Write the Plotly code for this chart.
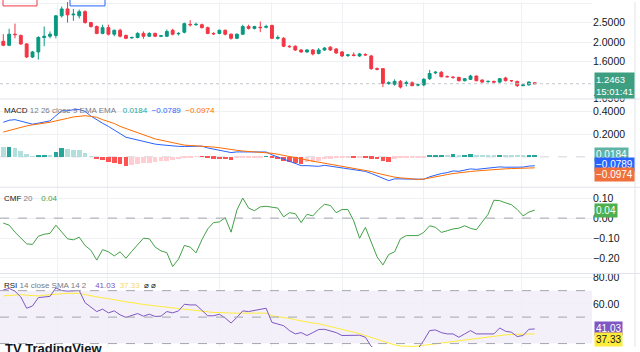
import math
import plotly.graph_objects as go

# ---------------- data ----------------
opens = [2.02,1.93,2.19,2.16,1.96,1.69,1.79,2.11,2.14,2.16,2.70,2.92,2.73,2.70,2.83,2.50,2.39,2.21,2.36,2.19,
         2.29,2.16,2.10,2.11,2.21,2.14,2.21,2.14,2.14,2.29,2.20,2.24,2.45,2.44,2.44,2.36,2.21,2.21,2.29,2.19,
         2.09,2.19,2.39,2.34,2.37,2.37,2.42,2.09,2.09,1.91,1.91,1.83,1.79,1.83,1.76,1.83,1.89,1.85,1.79,1.72,
         1.73,1.71,1.74,1.71,1.48,1.48,1.25,1.24,1.28,1.25,1.26,1.23,1.23,1.32,1.41,1.42,1.35,1.34,1.34,1.29,
         1.31,1.36,1.30,1.28,1.28,1.27,1.33,1.29,1.28,1.22,1.23,1.26]
highs = [2.19,2.33,2.47,2.18,1.98,1.81,2.14,2.39,2.26,2.72,3.00,3.16,2.92,2.90,2.88,2.52,2.42,2.44,2.44,2.31,
         2.33,2.18,2.13,2.24,2.26,2.24,2.23,2.17,2.31,2.33,2.24,2.50,2.57,2.50,2.47,2.39,2.24,2.31,2.31,2.21,
         2.21,2.44,2.44,2.41,2.53,2.44,2.44,2.16,2.12,1.93,1.93,1.85,1.85,1.85,1.87,1.89,1.91,1.87,1.81,1.75,
         1.78,1.77,1.76,1.73,1.50,1.49,1.28,1.31,1.30,1.29,1.28,1.25,1.33,1.46,1.44,1.44,1.37,1.36,1.35,1.33,
         1.38,1.37,1.31,1.29,1.29,1.33,1.35,1.30,1.29,1.24,1.28,1.27]
lows = [1.91,1.91,2.09,1.94,1.67,1.67,1.64,1.91,2.09,2.09,2.65,2.50,2.55,2.62,2.47,2.36,2.19,2.19,2.16,2.14,
        2.11,2.07,2.08,2.09,2.08,2.12,2.12,2.12,2.12,2.16,2.16,2.21,2.39,2.41,2.34,2.19,2.17,2.19,2.16,2.06,
        2.07,2.17,2.31,2.31,2.24,2.34,2.07,2.06,1.89,1.88,1.81,1.77,1.77,1.72,1.74,1.81,1.81,1.75,1.69,1.69,
        1.70,1.69,1.71,1.46,1.45,1.20,1.23,1.22,1.18,1.21,1.21,1.21,1.21,1.30,1.39,1.34,1.34,1.32,1.28,1.28,
        1.30,1.28,1.26,1.26,1.26,1.26,1.28,1.27,1.20,1.21,1.22,1.24]
closes = [1.93,2.19,2.18,1.96,1.69,1.79,2.11,2.14,2.19,2.70,2.92,2.73,2.75,2.83,2.50,2.39,2.21,2.36,2.19,2.29,
          2.14,2.09,2.11,2.21,2.14,2.21,2.14,2.15,2.26,2.19,2.21,2.47,2.44,2.45,2.36,2.21,2.20,2.29,2.19,2.09,
          2.19,2.39,2.34,2.39,2.36,2.39,2.09,2.11,1.91,1.90,1.83,1.79,1.83,1.75,1.83,1.87,1.83,1.77,1.71,1.73,
          1.72,1.75,1.73,1.48,1.47,1.25,1.26,1.28,1.20,1.26,1.22,1.23,1.31,1.40,1.42,1.35,1.35,1.34,1.29,1.32,
          1.36,1.29,1.27,1.28,1.27,1.32,1.29,1.29,1.22,1.23,1.27,1.2463]

macd_line = [0.307,0.325,0.330,0.316,0.298,0.290,0.299,0.311,0.319,0.365,0.408,0.409,0.418,0.420,0.403,0.362,
             0.328,0.298,0.270,0.241,0.206,0.174,0.162,0.148,0.136,0.125,0.113,0.107,0.101,0.093,0.093,0.092,
             0.095,0.098,0.095,0.079,0.070,0.061,0.052,0.038,0.044,0.043,0.041,0.040,0.039,0.043,0.018,0.000,
             -0.021,-0.040,-0.061,-0.078,-0.078,-0.081,-0.084,-0.075,-0.082,-0.089,-0.097,-0.102,-0.111,-0.120,
             -0.129,-0.147,-0.168,-0.195,-0.211,-0.195,-0.196,-0.199,-0.203,-0.204,-0.199,-0.177,-0.160,-0.148,
             -0.140,-0.125,-0.128,-0.115,-0.107,-0.111,-0.106,-0.102,-0.098,-0.089,-0.092,-0.092,-0.093,-0.091,
             -0.082,-0.0789]
signal_line = [0.220,0.235,0.249,0.264,0.275,0.284,0.290,0.299,0.307,0.319,0.333,0.342,0.354,0.362,0.365,0.359,
               0.351,0.330,0.313,0.296,0.270,0.252,0.232,0.212,0.194,0.177,0.159,0.148,0.136,0.122,0.113,0.104,
               0.101,0.099,0.096,0.093,0.087,0.081,0.072,0.064,0.058,0.052,0.049,0.046,0.043,0.038,0.032,0.023,
               0.014,0.006,-0.006,-0.017,-0.029,-0.038,-0.046,-0.055,-0.067,-0.075,-0.084,-0.090,-0.099,-0.110,
               -0.119,-0.130,-0.145,-0.157,-0.168,-0.180,-0.186,-0.191,-0.197,-0.200,-0.197,-0.186,-0.174,-0.165,
               -0.157,-0.148,-0.140,-0.135,-0.130,-0.125,-0.120,-0.116,-0.112,-0.109,-0.106,-0.104,-0.102,-0.100,
               -0.099,-0.0974]
macd_hist = [0.087,0.090,0.081,0.052,0.023,0.006,0.009,0.012,0.012,0.046,0.075,0.067,0.064,0.058,0.038,0.003,
             -0.023,-0.032,-0.043,-0.055,-0.064,-0.078,-0.070,-0.064,-0.058,-0.052,-0.046,-0.041,-0.035,-0.029,
             -0.020,-0.012,-0.006,-0.001,-0.001,-0.014,-0.017,-0.020,-0.020,-0.026,-0.014,-0.009,-0.008,-0.006,
             -0.004,0.005,-0.014,-0.023,-0.035,-0.046,-0.055,-0.061,-0.049,-0.043,-0.038,-0.020,-0.015,-0.014,
             -0.013,-0.012,-0.012,-0.010,-0.010,-0.017,-0.023,-0.038,-0.043,-0.015,-0.010,-0.008,-0.006,-0.004,
             -0.002,0.009,0.014,0.017,0.017,0.023,0.012,0.020,0.023,0.014,0.014,0.014,0.014,0.020,0.014,0.012,
             0.009,0.009,0.017,0.0184]

cmf = [-0.025,-0.035,-0.070,-0.098,-0.128,-0.131,-0.090,-0.080,-0.076,-0.035,-0.070,-0.103,-0.108,-0.095,
       -0.136,-0.160,-0.209,-0.157,-0.168,-0.188,-0.168,-0.200,-0.165,-0.133,-0.100,-0.103,-0.144,-0.163,
       -0.172,-0.241,-0.204,-0.136,-0.144,-0.173,-0.108,-0.054,-0.022,-0.019,0.002,-0.070,0.040,0.100,
       0.050,0.037,0.056,0.059,0.054,0.050,0.006,0.027,0.022,-0.022,0.019,0.011,0.043,0.069,0.063,0.027,
       0.043,0.043,-0.014,-0.100,-0.046,-0.120,-0.193,-0.233,-0.181,-0.168,-0.103,-0.087,-0.087,-0.087,
       -0.071,-0.038,-0.046,-0.071,-0.063,-0.054,-0.050,-0.038,-0.051,-0.058,-0.019,0.019,0.089,0.087,
       0.076,0.067,0.043,0.011,0.030,0.04]

rsi = [70.6,71.6,69.6,65.2,56.7,58.4,64.7,65.2,65.7,72.1,70.1,69.6,69.6,70.1,60.9,57.7,54.2,56.0,53.2,54.7,
       51.7,49.8,51.0,52.7,50.7,52.2,50.5,50.7,54.2,53.2,54.7,59.7,59.2,59.2,55.2,51.0,51.0,52.2,49.3,45.5,
       49.8,54.7,54.2,55.2,56.0,56.7,46.0,44.8,43.5,39.8,37.3,38.3,36.1,38.3,40.6,40.8,39.8,38.3,36.1,36.1,
       36.3,36.3,34.8,27.9,24.9,21.2,22.4,22.4,21.2,22.4,23.7,26.1,32.4,39.8,40.3,38.3,37.3,37.3,34.8,37.3,
       39.8,37.3,37.3,36.8,37.3,41.8,39.3,38.6,35.3,36.1,40.8,41.03]
rsi_sma = [66.0,66.5,67.0,67.0,66.5,66.0,66.0,66.5,67.0,67.5,68.0,68.0,68.0,68.0,67.0,66.0,65.0,64.5,64.0,63.0,
           62.0,61.5,61.0,60.0,59.5,59.0,58.5,58.0,57.5,57.0,56.0,55.5,55.5,55.0,54.5,54.0,53.5,53.5,53.0,53.0,
           53.0,53.0,53.0,53.0,53.0,53.0,51.0,50.5,50.0,49.0,48.0,47.0,46.0,45.5,45.0,44.0,43.0,42.0,41.0,40.0,
           38.6,37.5,36.0,34.5,33.0,31.5,30.0,29.0,28.2,27.8,27.8,28.2,28.6,29.2,29.8,30.4,31.0,31.6,32.2,32.8,
           33.4,34.0,34.6,35.2,35.7,36.2,36.6,36.9,37.1,37.2,37.3,37.33]

price_ticks = [1.05, 1.6, 2.0, 2.5, 3.1]
price_tick_text = ["1.0500", "1.6000", "2.0000", "2.5000", "3.1000"]
macd_ticks = [0.2, 0.4]
macd_tick_text = ["0.2000", "0.4000"]
cmf_ticks = [-0.2, -0.1, 0.0, 0.1]
cmf_tick_text = ["\u22120.20", "\u22120.10", "0.00", "0.10"]
rsi_ticks = [60, 80]
rsi_tick_text = ["60.00", "80.00"]

last_price_text = "1.2463"
countdown_text = "15:01:41"

# ---------------- figure ----------------
W, H = 640, 352
PLOT_R = 592.0
idx = list(range(len(closes)))

def py(p):
    return 1 - p / H

def px(p):
    return p / PLOT_R

FONT = "Liberation Sans, Arial, sans-serif"
GREEN = "#089981"
RED = "#F23645"
GRID = "#eef0f4"

fig = go.Figure()

fig.add_trace(go.Candlestick(
    x=idx, open=opens, high=highs, low=lows, close=closes,
    increasing=dict(line=dict(color=GREEN, width=1), fillcolor=GREEN),
    decreasing=dict(line=dict(color=RED, width=1), fillcolor=RED),
    whiskerwidth=0, xaxis="x", yaxis="y", hoverinfo="skip"))

hist_colors = []
for i, v in enumerate(macd_hist):
    prev = macd_hist[i - 1] if i > 0 else v
    if v >= 0:
        hist_colors.append("#26A69A" if v > prev else "#B2DFDB")
    else:
        hist_colors.append("#FFCDD2" if v > prev else "#FF5252")

fig.add_trace(go.Bar(x=idx, y=macd_hist, marker=dict(color=hist_colors, line=dict(width=0)),
                     width=0.8, xaxis="x2", yaxis="y2"))
fig.add_trace(go.Scatter(x=idx, y=macd_line, mode="lines", line=dict(color="#2962FF", width=1),
                         xaxis="x2", yaxis="y2"))
fig.add_trace(go.Scatter(x=idx, y=signal_line, mode="lines", line=dict(color="#FF6D00", width=1),
                         xaxis="x2", yaxis="y2"))
fig.add_trace(go.Scatter(x=idx, y=cmf, mode="lines", line=dict(color="#43A047", width=1),
                         xaxis="x3", yaxis="y3"))
fig.add_trace(go.Scatter(x=idx, y=rsi_sma, mode="lines", line=dict(color="#FFEB3B", width=1),
                         xaxis="x4", yaxis="y4"))
fig.add_trace(go.Scatter(x=idx, y=rsi, mode="lines", line=dict(color="#7E57C2", width=1),
                         xaxis="x4", yaxis="y4"))

xgrid = [9.2, 17.9, 37.1, 46.0, 58.0, 71.9, 88.8]
xrange_ = [-0.565, 100.8]
xcommon = dict(range=xrange_, showticklabels=False, tickvals=xgrid, showgrid=True, gridcolor=GRID,
               zeroline=False, showline=False, ticks="", fixedrange=True)

tickfont = dict(family=FONT, size=10.5, color="#131722")
ycommon = dict(side="right", showgrid=True, gridcolor=GRID, zeroline=False, showline=False,
               ticks="", tickfont=tickfont, fixedrange=True)

d1 = [py(99), 1]
d2 = [py(189), py(99)]
d3 = [py(277), py(189)]
d4 = [0, py(277)]

fig.update_layout(
    width=W, height=H, margin=dict(l=0, r=W - PLOT_R, t=0, b=0),
    paper_bgcolor="white", plot_bgcolor="white", showlegend=False,
    font=dict(family=FONT, size=10, color="#131722"),
    bargap=0,
    xaxis=dict(**xcommon, anchor="y", domain=[0, 1], rangeslider=dict(visible=False)),
    xaxis2=dict(**xcommon, anchor="y2", domain=[0, 1], matches="x"),
    xaxis3=dict(**xcommon, anchor="y3", domain=[0, 1], matches="x"),
    xaxis4=dict(**xcommon, anchor="y4", domain=[0, 1], matches="x"),
    yaxis=dict(**ycommon, domain=d1, type="log", range=[0.01999, 0.49970],
               tickvals=price_ticks, ticktext=price_tick_text, anchor="x"),
    yaxis2=dict(**ycommon, domain=d2, range=[-0.2696, 0.5130],
                tickvals=macd_ticks, ticktext=macd_tick_text, anchor="x2"),
    yaxis3=dict(**ycommon, domain=d3, range=[-0.2756, 0.1537],
                tickvals=cmf_ticks, ticktext=cmf_tick_text, anchor="x3"),
    yaxis4=dict(**ycommon, domain=d4, range=[27.41, 82.96],
                tickvals=rsi_ticks, ticktext=rsi_tick_text, anchor="x4"),
)

shapes = []
# RSI band
shapes.append(dict(type="rect", xref="paper", x0=0, x1=1, yref="y4", y0=30, y1=70,
                   fillcolor="rgba(126,87,194,0.09)", line=dict(width=0), layer="below"))
for lv in (70, 50, 30):
    shapes.append(dict(type="line", xref="paper", x0=0, x1=1, yref="y4", y0=lv, y1=lv,
                       line=dict(color="#a3a6af", width=1, dash="dash")))
# CMF zero line
shapes.append(dict(type="line", xref="paper", x0=0, x1=1, yref="y3", y0=0, y1=0,
                   line=dict(color="#a3a6af", width=1, dash="dash")))
# MACD zero line
shapes.append(dict(type="line", xref="paper", x0=0, x1=1, yref="y2", y0=0, y1=0,
                   line=dict(color="#d1d4dc", width=1, dash="dash"), layer="below"))
# current price line
shapes.append(dict(type="line", xref="paper", x0=0, x1=1, yref="y", y0=closes[-1], y1=closes[-1],
                   line=dict(color="#c3c6ce", width=1, dash="dot")))
# pane separators
for sep in (99, 189, 277):
    shapes.append(dict(type="line", xref="paper", x0=0, x1=W / PLOT_R, yref="paper",
                       y0=py(sep), y1=py(sep), line=dict(color="#e0e3eb", width=1)))
# right border
shapes.append(dict(type="line", xref="paper", x0=px(635), x1=px(635), yref="paper", y0=0, y1=1,
                   line=dict(color="#e0e3eb", width=1)))
# top-left cut buttons
shapes.append(dict(type="rect", xref="paper", x0=px(3), x1=px(37), yref="paper", y0=py(4), y1=py(-6),
                   line=dict(color="#F23645", width=1), fillcolor="rgba(0,0,0,0)"))
shapes.append(dict(type="rect", xref="paper", x0=px(70), x1=px(105), yref="paper", y0=py(4), y1=py(-6),
                   line=dict(color="#2962FF", width=1), fillcolor="rgba(0,0,0,0)"))
fig.update_layout(shapes=shapes)

ann = []
LF = dict(family=FONT, size=8, color="#787b86")
def legend(x, y, text):
    ann.append(dict(xref="paper", yref="paper", x=px(x), y=py(y), xanchor="left", yanchor="middle",
                    text=text, showarrow=False, font=LF))

legend(2, 111, '<span style="color:#131722">MACD</span> 12 26 close 9 EMA EMA&nbsp;&nbsp;&nbsp;'
       '<span style="color:#26A69A">0.0184</span>&nbsp;&nbsp;<span style="color:#2962FF">\u22120.0789</span>'
       '&nbsp;&nbsp;<span style="color:#FF6D00">\u22120.0974</span>')
legend(2, 200, '<span style="color:#131722">CMF</span> 20&nbsp;&nbsp;&nbsp;&nbsp;<span style="color:#43A047">0.04</span>')
legend(2, 289, '<span style="color:#131722">RSI</span> 14 close SMA 14 2&nbsp;&nbsp;&nbsp;&nbsp;'
       '<span style="color:#7E57C2">41.03</span>&nbsp;&nbsp;<span style="color:#F5D76E">37.33</span>'
       '&nbsp;&nbsp;<span style="color:#131722">\u2300 \u2300</span>')

def badge(y, text, bg, fg="white", size=10):
    ann.append(dict(xref="paper", yref="paper", x=px(594), y=py(y), xanchor="left", yanchor="middle",
                    text=text, showarrow=False, bgcolor=bg, borderpad=1,
                    font=dict(family=FONT, size=size, color=fg), align="left"))

badge(85.5, last_price_text + "<br>" + countdown_text, "#3d9e80", size=9.5)
badge(155.5, "0.0184", "#5fb3a6")
badge(165.5, "\u22120.0789", "#2962FF")
badge(176, "\u22120.0974", "#F0703C")
badge(213, "0.04", "#4caf50")
badge(333, "41.03", "#7E57C2")
badge(344, "37.33", "#FFEB3B", "#131722")

ann.append(dict(xref="paper", yref="paper", x=px(3), y=py(344), xanchor="left", yanchor="top",
                text="<b>TV TradingView</b>", showarrow=False,
                font=dict(family=FONT, size=13, color="#131722")))
fig.update_layout(annotations=ann)

fig.write_html("out.html")
